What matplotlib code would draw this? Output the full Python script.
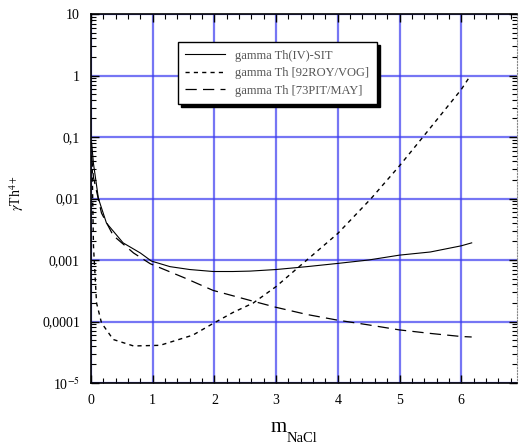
import numpy as np
import matplotlib
matplotlib.use("Agg")
import matplotlib.pyplot as plt
from matplotlib.ticker import FixedLocator, FixedFormatter, LogLocator, MultipleLocator, NullFormatter

plt.rcParams['font.family'] = ['Liberation Serif', 'DejaVu Serif']
plt.rcParams['mathtext.fontset'] = 'stix'

# Th(IV)-SIT
x_sit = [0.01, 0.04, 0.12, 0.25, 0.52, 0.8, 0.98, 1.28, 1.6, 1.98, 2.3, 2.58, 3.0, 3.5, 4.0, 4.5, 5.0, 5.5, 6.0, 6.17]
y_sit = [0.08, 0.037, 0.01, 0.004, 0.0019, 0.0013, 0.00096, 0.00078, 0.0007, 0.00065, 0.00065, 0.00066,
         0.0007, 0.00078, 0.00088, 0.001, 0.0012, 0.00135, 0.0017, 0.0019]

# 92ROY/VOG
x_roy = [0.02, 0.03, 0.04, 0.09, 0.17, 0.36, 0.69, 1.12, 1.65, 1.98, 2.3, 2.63, 3.0, 3.44, 4.0, 4.54, 5.0, 5.38, 6.0, 6.15]
y_roy = [0.03, 0.0066, 0.0017, 0.0002, 0.000095, 0.000051, 0.00004, 0.000041, 0.00006, 0.000093, 0.00014,
         0.0002, 0.00037, 0.00089, 0.0027, 0.01, 0.034, 0.1, 0.59, 1.0]

# 73PIT/MAY
x_pit = [0.01, 0.04, 0.17, 0.36, 0.69, 0.96, 1.5, 1.98, 2.58, 3.0, 3.5, 4.0, 4.5, 5.0, 5.5, 6.0, 6.17]
y_pit = [0.05, 0.022, 0.0058, 0.0025, 0.0013, 0.00087, 0.00052, 0.00032, 0.00022, 0.00017, 0.00013,
         0.000105, 0.000088, 0.000073, 0.000064, 0.000057, 0.000056]

y_ticks = [1e-5, 1e-4, 1e-3, 1e-2, 1e-1, 1, 10]
y_labels = ['10$^{-5}$', '0,0001', '0,001', '0,01', '0,1', '1', '10']
x_ticks = [0, 1, 2, 3, 4, 5, 6]

fig = plt.figure(figsize=(5.19, 4.46), dpi=100)
W, H = 519, 446
ax = fig.add_axes([91 / W, 1 - 383 / H, (517 - 91) / W, (383 - 14) / H])

ax.plot(x_sit, y_sit, color='black', lw=0.8, label='gamma Th(IV)-SIT')
ax.plot(x_roy, y_roy, color='black', lw=1.0, dashes=(3, 3), label='gamma Th [92ROY/VOG]')
ax.plot(x_pit, y_pit, color='black', lw=0.9, dashes=(9, 5), label='gamma Th [73PIT/MAY]')

ax.set_yscale('log')
ax.set_ylim(1e-5, 10)
ax.set_xlim(0, (517 - 91) / 61.7)

ax.yaxis.set_major_locator(FixedLocator(y_ticks))
ax.yaxis.set_major_formatter(FixedFormatter(y_labels))
ax.yaxis.set_minor_locator(LogLocator(base=10, subs=np.arange(2, 10)))
ax.yaxis.set_minor_formatter(NullFormatter())
ax.xaxis.set_major_locator(FixedLocator(x_ticks))
ax.xaxis.set_minor_locator(MultipleLocator(0.2))

ax.grid(True, which='major', color='#3c3cf0', alpha=0.7, lw=1.6)
ax.tick_params(which='both', direction='in', top=True, right=True, labelsize=10, pad=8)
ax.tick_params(which='major', length=6, width=1)
ax.tick_params(which='minor', length=3.5, width=0.8)
for s in ['left', 'bottom', 'top']:
    ax.spines[s].set_linewidth(1.2)
ax.spines['right'].set_linestyle(':')
ax.spines['right'].set_color('#888888')

# x label: big "m" with a lowered NaCl subscript
fig.text(271 / W, 1 - 432 / H, 'm', fontsize=15, ha='left', va='baseline')
fig.text(287 / W, 1 - 442 / H, 'NaCl', fontsize=10.5, ha='left', va='baseline')

ax.set_ylabel(r'$\gamma$Th$^{4+}$', fontsize=10)
ax.yaxis.set_label_coords(-0.152, 0.515)

leg = ax.legend(loc='upper left', bbox_to_anchor=(0.204, 0.924), borderaxespad=0,
                fancybox=False, shadow={'color': 'black', 'alpha': 1}, edgecolor='black',
                fontsize=9, handlelength=3.2, labelspacing=0.45, borderpad=0.6, framealpha=1)
leg.get_frame().set_linewidth(1.0)
for t in leg.get_texts():
    t.set_color('#555555')

fig.savefig('out.png', dpi=100)
